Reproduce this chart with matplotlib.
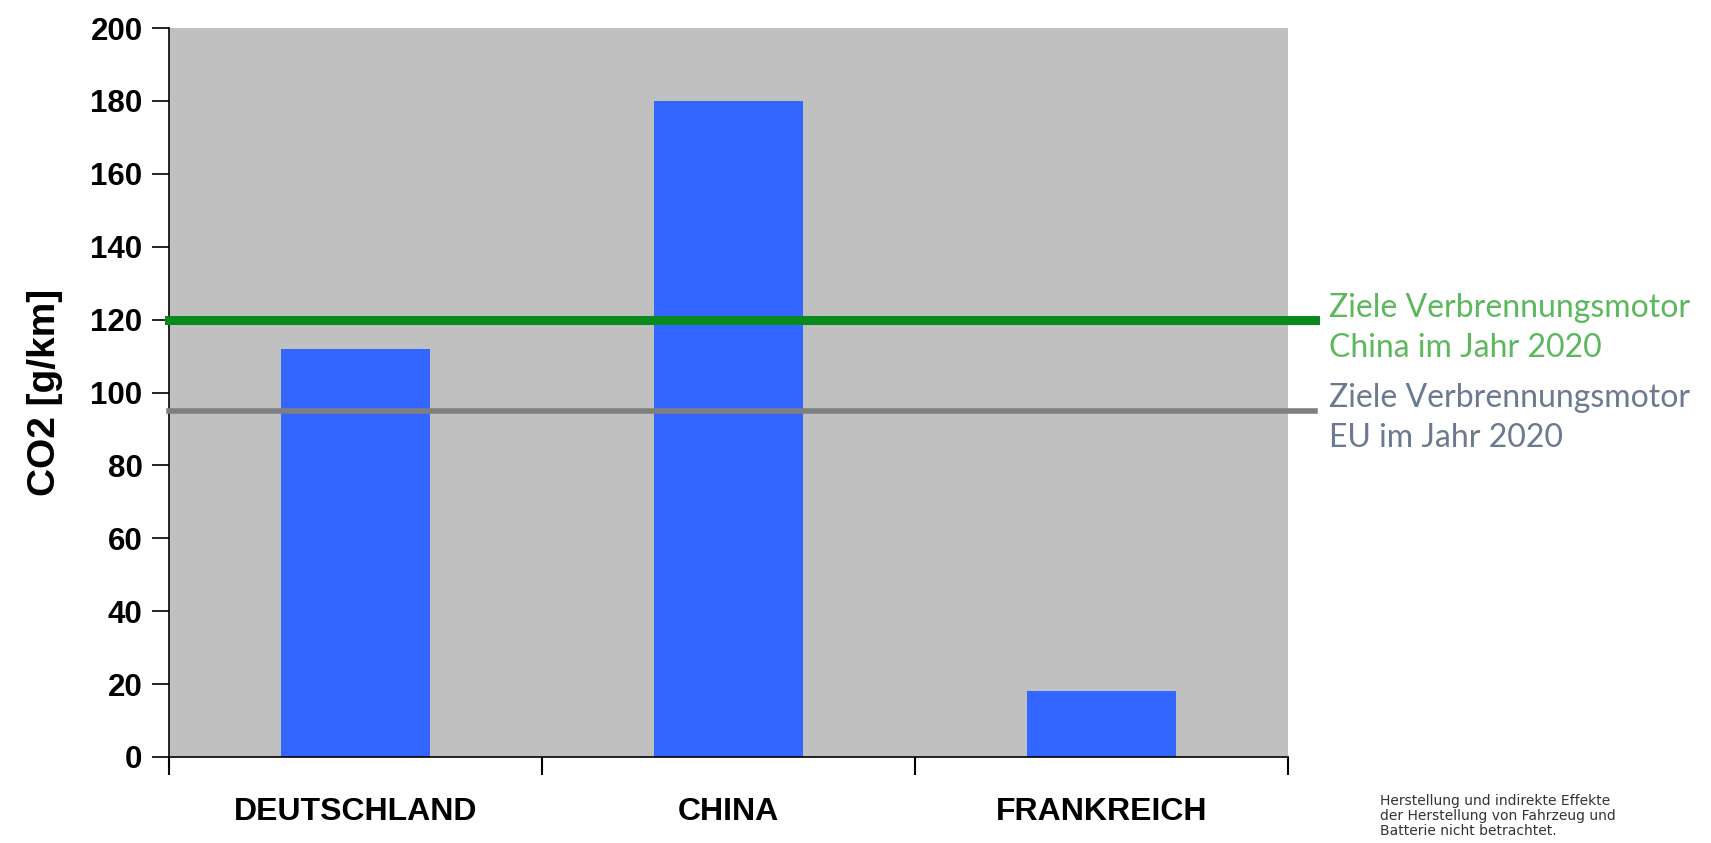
import matplotlib.pyplot as plt

# Data
countries = ["DEUTSCHLAND", "CHINA", "FRANKREICH"]
co2_values = [112, 180, 18]
target_china = 120
target_eu = 95
y_ticks = [0, 20, 40, 60, 80, 100, 120, 140, 160, 180, 200]

fig = plt.figure(figsize=(17.11, 8.43), dpi=100)
ax = fig.add_axes([169 / 1711, 1 - 757 / 843, 1119 / 1711, 729 / 843])
ax.set_facecolor("#c0c0c0")

x = list(range(len(countries)))
ax.bar(x, co2_values, width=0.4, color="#3366ff", zorder=2)

# target lines reaching out past the plot area
ax.axhline(target_china, xmin=0, xmax=1.024, color="#0a8a1e", lw=6.5, clip_on=False, zorder=3)
ax.axhline(target_eu, xmin=0, xmax=1.024, color="#7f7f7f", lw=4, clip_on=False, zorder=3)

ax.set_xlim(-0.5, 2.5)
ax.set_ylim(0, 200)
ax.set_yticks(y_ticks)
ax.set_yticklabels([str(v) for v in y_ticks], fontsize=22.5, fontweight="bold", family="Liberation Sans")
ax.tick_params(axis="y", length=12, width=1.2, pad=7)

# category boundary ticks, labels in between
ax.set_xticks([-0.5, 0.5, 1.5, 2.5])
ax.set_xticklabels([])
ax.tick_params(axis="x", length=13, width=1.5)
for xi, name in zip(x, countries):
    ax.text(xi, -0.075, name, transform=ax.get_xaxis_transform(), ha="center", va="center",
            fontsize=23, fontweight="bold", family="Liberation Sans")

for side in ["top", "right"]:
    ax.spines[side].set_visible(False)
ax.spines["left"].set_linewidth(1.2)
ax.spines["bottom"].set_linewidth(1.2)

ax.set_ylabel("CO2 [g/km]", fontsize=28, fontweight="bold", family="Liberation Sans", labelpad=20)

fig.text(1329 / 1711, 1 - 328 / 843, "Ziele Verbrennungsmotor\nChina im Jahr 2020",
         color="#5cb85c", fontsize=23, family="Lato", va="center", ha="left", linespacing=1.45)
fig.text(1329 / 1711, 1 - 418 / 843, "Ziele Verbrennungsmotor\nEU im Jahr 2020",
         color="#6b7a90", fontsize=23, family="Lato", va="center", ha="left", linespacing=1.45)

fig.text(1380 / 1711, 1 - 794 / 843,
         "Herstellung und indirekte Effekte\nder Herstellung von Fahrzeug und\nBatterie nicht betrachtet.",
         color="#333333", fontsize=10, family="DejaVu Sans", va="top", ha="left", linespacing=1.1)

fig.savefig("out.png", dpi=100)
